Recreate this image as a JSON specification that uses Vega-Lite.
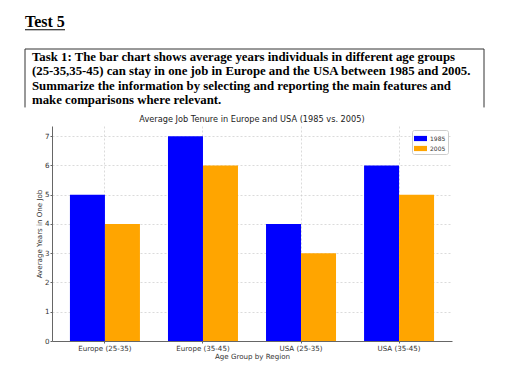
{
  "$schema": "https://vega.github.io/schema/vega-lite/v6.json",
  "width": 400,
  "height": 215,
  "autosize": {"type": "none"},
  "padding": {"left": 52, "top": 126, "right": 60, "bottom": 28},
  "background": "white",
  "config": {"view": {"stroke": null}},
  "resolve": {"scale": {"x": "independent", "y": "independent"}},
  "layer": [
    {
      "data": {"values": [
        {"group": "Europe (25-35)", "year": "1985", "years": 5},
        {"group": "Europe (25-35)", "year": "2005", "years": 4},
        {"group": "Europe (35-45)", "year": "1985", "years": 7},
        {"group": "Europe (35-45)", "year": "2005", "years": 6},
        {"group": "USA (25-35)", "year": "1985", "years": 4},
        {"group": "USA (25-35)", "year": "2005", "years": 3},
        {"group": "USA (35-45)", "year": "1985", "years": 6},
        {"group": "USA (35-45)", "year": "2005", "years": 5}
      ]},
      "mark": {"type": "bar"},
      "encoding": {
        "x": {"field": "group", "type": "nominal", "sort": null,
          "scale": {"paddingInner": 0.286, "paddingOuter": 0.183},
          "axis": {"title": "Age Group by Region", "labelAngle": 0, "labelFont": "DejaVu Sans", "labelFontSize": 7.1, "labelColor": "#333", "titleFont": "DejaVu Sans", "titleFontSize": 7.1, "titleFontWeight": "normal", "titleColor": "#333", "titlePadding": 1, "labelPadding": 1, "tickSize": 2, "tickColor": "#666", "domainColor": "#666", "grid": true, "bandPosition": 0.5, "gridDash": [2, 2], "gridColor": "#cccccc", "gridWidth": 0.7}},
        "xOffset": {"field": "year", "type": "nominal"},
        "y": {"field": "years", "type": "quantitative",
          "scale": {"domain": [0, 7.35], "nice": false},
          "axis": {"title": "Average Years in One Job", "values": [0, 1, 2, 3, 4, 5, 6, 7], "labelFont": "DejaVu Sans", "labelFontSize": 7.1, "labelColor": "#333", "titleFont": "DejaVu Sans", "titleFontSize": 7.1, "titleFontWeight": "normal", "titleColor": "#333", "titlePadding": 2, "labelPadding": 1, "tickSize": 2, "tickColor": "#666", "domainColor": "#666", "gridDash": [2, 2], "gridColor": "#cccccc", "gridWidth": 0.7}},
        "color": {"field": "year", "type": "nominal",
          "scale": {"domain": ["1985", "2005"], "range": ["#0000ff", "#ffa500"]},
          "legend": {"title": null, "orient": "top-right", "offset": 4, "labelFont": "DejaVu Sans", "labelFontSize": 6, "labelColor": "#333", "symbolType": "M-1,-0.4H1V0.4H-1Z", "symbolSize": 169, "symbolStrokeWidth": 0, "symbolOpacity": 1, "padding": 2, "rowPadding": 0, "strokeColor": "#cccccc", "fillColor": "white", "cornerRadius": 2, "labelOffset": 3}}
      }
    },
    {
      "layer": [
        {
          "data": {"values": [
            {"line": 1, "text": "Task 1: The bar chart shows average years individuals in different age groups"},
            {"line": 2, "text": "(25-35,35-45) can stay in one job in Europe and the USA between 1985 and 2005."},
            {"line": 3, "text": "Summarize the information by selecting and reporting the main features and"},
            {"line": 4, "text": "make comparisons where relevant."}
          ]},
          "mark": {"type": "text", "align": "left", "baseline": "middle", "font": "Liberation Serif", "fontSize": 12.8, "fontWeight": "bold", "color": "black"},
          "encoding": {
            "x": {"datum": -20, "type": "quantitative", "scale": {"domain": [0, 400], "nice": false, "zero": false}, "axis": null},
            "y": {"field": "line", "type": "quantitative", "scale": {"domain": [5.815, 20.815], "nice": false, "zero": false, "reverse": true}, "axis": null},
            "text": {"field": "text"}
          }
        },
        {
          "data": {"values": [{"label": "Test 5"}]},
          "mark": {"type": "text", "align": "left", "baseline": "middle", "font": "Liberation Serif", "fontSize": 16, "fontWeight": "bold", "color": "black"},
          "encoding": {
            "x": {"datum": -27, "type": "quantitative"},
            "y": {"datum": -1.44, "type": "quantitative"},
            "text": {"field": "label"}
          }
        },
        {
          "data": {"values": [{"label": "Average Job Tenure in Europe and USA (1985 vs. 2005)"}]},
          "mark": {"type": "text", "align": "center", "baseline": "middle", "font": "DejaVu Sans", "fontSize": 8.2, "color": "#222"},
          "encoding": {
            "x": {"datum": 200, "type": "quantitative"},
            "y": {"datum": 5.43, "type": "quantitative"},
            "text": {"field": "label"}
          }
        },
        {
          "data": {"values": [{"part": "underline"}]},
          "mark": {"type": "rule", "color": "black", "strokeWidth": 1.2},
          "encoding": {
            "x": {"datum": -27, "type": "quantitative"},
            "x2": {"datum": 13},
            "y": {"datum": -0.9, "type": "quantitative"}
          }
        },
        {
          "data": {"values": [{"side": "top"}]},
          "mark": {"type": "rule", "color": "#333", "strokeWidth": 1},
          "encoding": {
            "x": {"datum": -27, "type": "quantitative"},
            "x2": {"datum": 432},
            "y": {"datum": 0.443, "type": "quantitative"}
          }
        },
        {
          "data": {"values": [{"side": "left"}]},
          "mark": {"type": "rule", "color": "#333", "strokeWidth": 1},
          "encoding": {
            "x": {"datum": -27, "type": "quantitative"},
            "y": {"datum": 0.443, "type": "quantitative"},
            "y2": {"datum": 4.52}
          }
        },
        {
          "data": {"values": [{"side": "right"}]},
          "mark": {"type": "rule", "color": "#333", "strokeWidth": 1},
          "encoding": {
            "x": {"datum": 432, "type": "quantitative"},
            "y": {"datum": 0.443, "type": "quantitative"},
            "y2": {"datum": 4.52}
          }
        }
      ]
    }
  ]
}
